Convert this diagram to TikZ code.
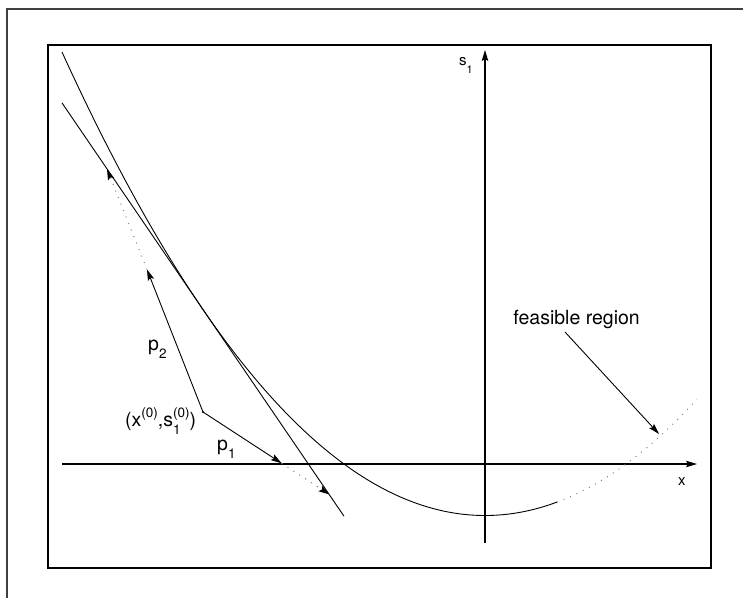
\documentclass[tikz,border=0pt]{standalone}
\usepackage{fontspec}
\setmainfont{TeX Gyre Heros}
\usetikzlibrary{arrows.meta}
\newcommand{\mysup}[1]{\raisebox{8.5pt}{\fontsize{13.5}{14}\selectfont #1}}
\newcommand{\mysub}[1]{\raisebox{-8pt}{\fontsize{13.5}{14}\selectfont #1}}
\newcommand{\mysupsub}[2]{\makebox[0pt][l]{\mysup{#1}}\makebox[0pt][l]{\mysub{#2}}\phantom{\fontsize{13.5}{14}\selectfont #1}}
\begin{document}
\begin{tikzpicture}[x=1pt,y=-1pt,
  lbl/.style={inner sep=0pt, font=\fontsize{19.5}{23}\selectfont},
  axlbl/.style={inner sep=0pt, font=\fontsize{15}{18}\selectfont},
  arr/.style={-{Stealth[length=11pt,width=6.5pt,inset=2pt]}},
  ln/.style={line width=0.9pt, black},
  dots/.style={gray, line width=1pt, dash pattern=on 1pt off 6pt,
    -{Stealth[length=11pt,width=6.5pt,inset=2pt,color=black]}},
  dotsplain/.style={gray, line width=1pt, dash pattern=on 1pt off 6pt}
]
\useasboundingbox (0,0) rectangle (743,598);
% frames
\draw[line width=2pt, black!75] (7,598) -- (7,9) -- (743,9);
\draw[line width=1.8pt, black] (48,45) rectangle (711,568);
% coordinates
\coordinate (xs) at (62,464);
\coordinate (xe) at (697,464);
\coordinate (ys) at (485,543);
\coordinate (ye) at (485,50);
\coordinate (P) at (203,412);
\coordinate (A1) at (281.7,463.3);
\coordinate (B1) at (329.5,494.5);
\coordinate (A2) at (147,269.5);
\coordinate (B2) at (107,169);
\coordinate (T1) at (62,102.9);
\coordinate (T2) at (344,516.2);
\coordinate (F1) at (565,332);
\coordinate (F2) at (659,434);
% axes
\draw[ln, line width=1.1pt, arr] (xs) -- (xe);
\draw[ln, line width=1.1pt, arr] (ys) -- (ye);
% curve
\draw[ln] plot[domain=62:557, samples=150] (\x,{515.5-25.9*((\x-485)/100)^2});
\draw[dotsplain] plot[domain=557:697, samples=60] (\x,{515.5-25.9*((\x-485)/100)^2});
% tangent
\draw[ln] (T1) -- (T2);
% steps
\draw[ln, arr] (P) -- (A1);
\draw[dots] (A1) -- (B1);
\draw[ln, arr] (P) -- (A2);
\draw[dots] (A2) -- (B2);
\fill (P) circle (1.2pt);
% feasible region pointer
\draw[ln, arr] (F1) -- (F2);
% labels
\node[lbl, anchor=base east] (fr) at (640,324) {feasible region};
\node[lbl, anchor=base west] (lp) at (125,426) {(x\mysup{(0)},s\mysupsub{(0)}{1})};
\node[lbl, anchor=base west] (lp2) at (148,350) {p\mysub{2}};
\node[lbl, anchor=base west] (lp1) at (217,450) {p\mysub{1}};
\node[axlbl, anchor=base west] (ls) at (459,65.7) {s\raisebox{-7.5pt}{\fontsize{11}{12}\selectfont 1}};
\node[axlbl, anchor=base west] (lx) at (678,485) {x};
\end{tikzpicture}
\end{document}
